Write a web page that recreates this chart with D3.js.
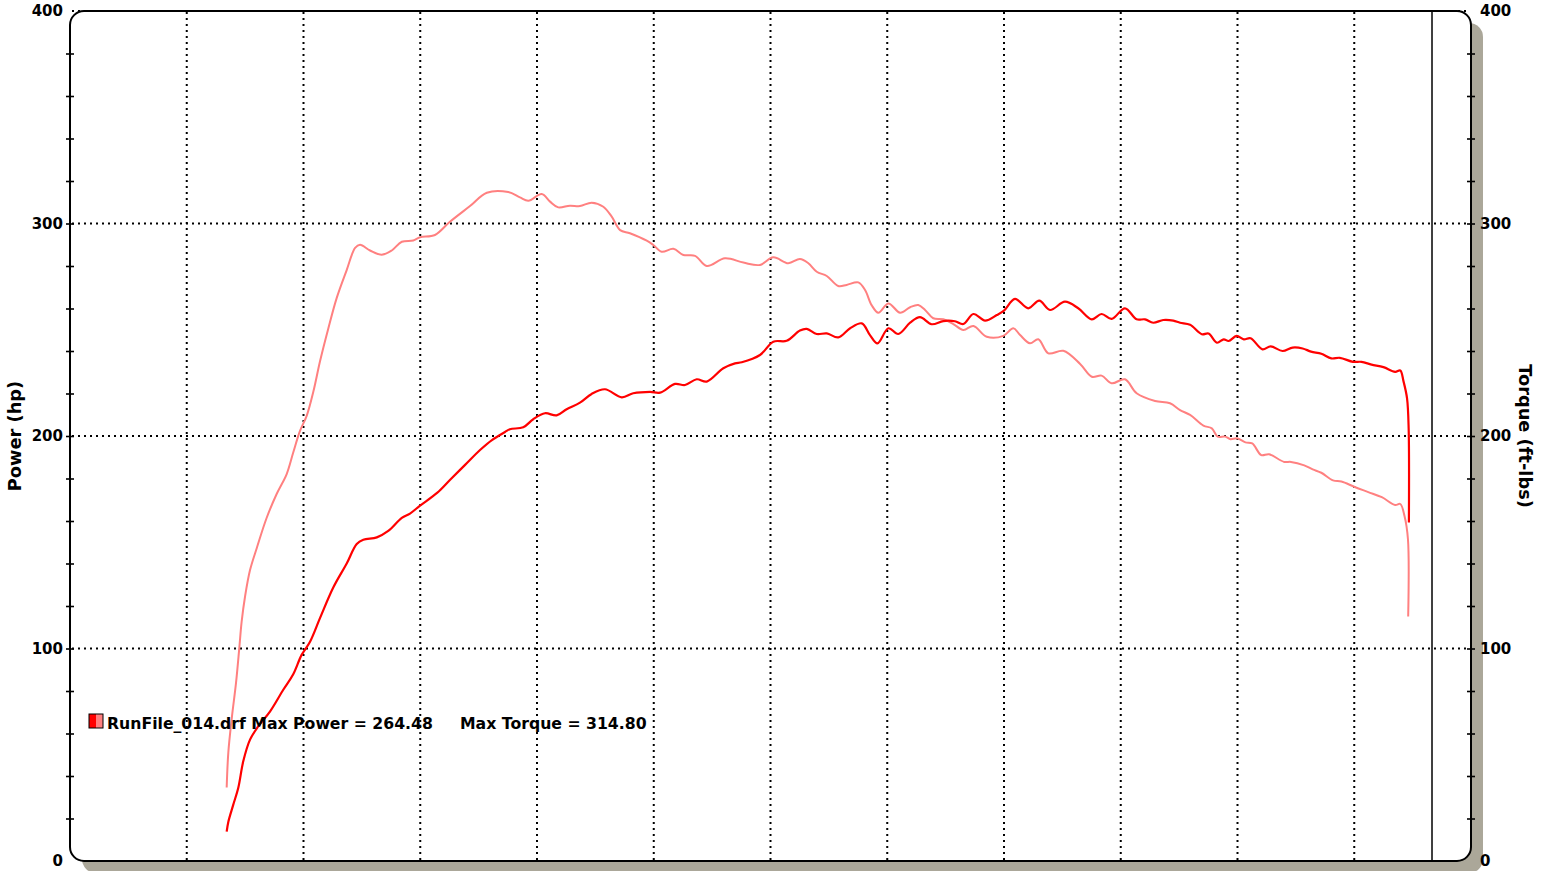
<!DOCTYPE html>
<html><head><meta charset="utf-8">
<script src="https://cdn.jsdelivr.net/npm/d3@7"></script>
<style>
html,body{margin:0;padding:0;background:#fff;overflow:hidden}
svg{display:block}
text{font-family:"DejaVu Sans",Verdana,sans-serif;font-weight:bold;fill:#000}
</style></head><body>
<svg id="c" width="1554" height="871"></svg>
<script>
// ---- data ----
const yTickLabels = [0, 100, 200, 300, 400];
const yMinorTicks = d3.range(20, 400, 20);
const xGridRpm = [1500, 2000, 2500, 3000, 3500, 4000, 4500, 5000, 5500, 6000, 6500];
const cursorRpm = 6833;
const legendFile = "RunFile_014.drf";
const maxPower = "264.48";
const maxTorque = "314.80";

const torque = [
[1671,34.6],[1678,51.0],[1693,67.4],[1711,83.8],[1725,100.2],[1735,112.5],[1750,124.7],[1771,136.9],[1800,147.3],[1842,161.4],[1885,172.7],[1928,182.1],[1956,192.2],[1985,202.4],[2014,209.6],[2042,220.8],[2071,235.3],[2106,250.5],[2142,264.9],[2185,278.1],[2221,288.5],[2242,290.0],[2285,287.3],[2335,285.3],[2378,287.3],[2421,291.4],[2470,292.0],[2499,293.5],[2563,294.6],[2627,300.8],[2713,308.2],[2785,314.5],[2877,314.8],[2927,312.3],[2963,310.7],[3020,313.9],[3056,310.3],[3091,307.6],[3141,308.4],[3184,308.2],[3234,309.8],[3284,307.9],[3320,303.2],[3356,296.9],[3398,295.4],[3470,291.9],[3498,289.9],[3534,286.7],[3584,288.1],[3627,285.2],[3677,284.8],[3727,280.0],[3805,283.6],[3884,281.6],[3955,280.5],[4012,284.1],[4076,281.3],[4126,283.3],[4162,281.3],[4198,277.3],[4241,275.3],[4290,270.6],[4326,271.1],[4376,272.3],[4405,268.7],[4433,261.6],[4462,258.0],[4505,262.4],[4555,258.0],[4598,260.6],[4633,261.6],[4662,259.3],[4697,255.4],[4740,254.9],[4783,252.7],[4826,249.9],[4869,251.8],[4926,246.7],[4997,247.1],[5040,250.7],[5069,247.5],[5111,243.6],[5147,245.5],[5190,238.9],[5254,240.1],[5326,233.9],[5376,227.9],[5418,228.4],[5461,224.8],[5518,226.7],[5568,220.1],[5647,216.5],[5711,215.4],[5754,212.2],[5797,209.9],[5854,204.9],[5890,203.6],[5915,199.7],[5948,199.7],[5970,198.5],[5998,198.9],[6034,197.0],[6063,196.5],[6102,191.0],[6135,191.4],[6200,187.8],[6229,187.8],[6286,186.2],[6322,184.3],[6359,182.7],[6409,179.1],[6445,178.6],[6502,176.0],[6560,173.6],[6618,171.2],[6675,167.5],[6697,168.0],[6715,162.5],[6730,151.4],[6731,115.1]
];

const power = [
[1671,13.8],[1678,18.4],[1699,26.4],[1721,34.6],[1742,46.9],[1771,57.1],[1806,63.3],[1857,70.4],[1914,80.7],[1956,87.9],[1992,97.0],[2028,103.2],[2071,114.4],[2128,128.8],[2185,140.0],[2228,149.2],[2256,151.2],[2314,152.3],[2363,155.3],[2421,161.5],[2456,163.5],[2499,167.2],[2572,173.2],[2627,179.3],[2692,186.4],[2756,193.4],[2807,198.1],[2863,201.9],[2884,203.2],[2941,204.1],[2984,207.9],[3034,210.7],[3084,209.7],[3127,212.6],[3184,215.7],[3234,219.8],[3291,222.0],[3363,218.2],[3412,220.1],[3484,220.8],[3527,220.4],[3591,224.5],[3634,224.0],[3684,226.7],[3727,225.6],[3798,231.9],[3848,234.2],[3877,234.7],[3955,238.1],[4012,244.4],[4069,244.8],[4126,249.6],[4155,250.4],[4198,248.0],[4241,248.3],[4290,246.4],[4341,250.7],[4391,253.0],[4426,247.5],[4458,243.6],[4505,250.7],[4547,248.0],[4598,253.3],[4640,255.9],[4690,252.6],[4740,254.1],[4790,254.0],[4826,252.7],[4869,257.4],[4919,254.3],[4969,256.9],[5000,259.0],[5047,264.5],[5104,260.1],[5151,263.7],[5197,259.3],[5261,263.2],[5318,260.1],[5376,254.9],[5418,257.4],[5461,255.1],[5518,260.1],[5568,254.9],[5604,254.9],[5639,253.3],[5682,254.6],[5725,254.3],[5754,253.3],[5797,252.3],[5847,247.9],[5876,248.2],[5912,243.9],[5941,245.5],[5962,244.7],[5996,247.1],[6027,245.5],[6056,246.0],[6107,240.8],[6142,242.2],[6193,240.0],[6236,241.6],[6279,241.2],[6315,239.7],[6359,238.7],[6402,236.5],[6438,236.8],[6495,234.9],[6531,234.9],[6574,233.6],[6625,232.4],[6675,230.2],[6697,230.8],[6711,225.7],[6726,217.8],[6733,203.6],[6734,159.3]
];

// ---- layout ----
const L = 70, R = 1471, T = 11, B = 861;
const x = d3.scaleLinear().domain([1000, 7000]).range([L, R]);
const y = d3.scaleLinear().domain([0, 400]).range([B, T]);
const svg = d3.select("#c");

const powerColor = "#ff0000", torqueColor = "#ff8080";

// shadow
svg.append("rect").attr("x", L + 12).attr("y", T + 12).attr("width", R - L).attr("height", B - T)
  .attr("rx", 14).attr("fill", "#aba799");
// plot background
svg.append("rect").attr("x", L).attr("y", T).attr("width", R - L).attr("height", B - T)
  .attr("rx", 14).attr("fill", "#fff");

// grid
const grid = svg.append("g").attr("stroke", "#000").attr("stroke-width", 2).attr("stroke-dasharray", "2,4");
grid.selectAll("line.h").data(yTickLabels.filter(d => d > 0)).join("line").attr("class", "h")
  .attr("x1", L + 2).attr("x2", R - 2).attr("y1", d => y(d)).attr("y2", d => y(d));
grid.selectAll("line.v").data(xGridRpm).join("line").attr("class", "v")
  .attr("x1", d => x(d)).attr("x2", d => x(d)).attr("y1", T + 1).attr("y2", B - 1);

// cursor line
svg.append("line").attr("x1", x(cursorRpm)).attr("x2", x(cursorRpm)).attr("y1", T).attr("y2", B)
  .attr("stroke", "#000").attr("stroke-width", 1.5);

// curves
const line = d3.line().x(d => x(d[0])).y(d => y(d[1])).curve(d3.curveCatmullRom.alpha(0.5));
svg.append("path").datum(torque).attr("d", line).attr("fill", "none")
  .attr("stroke", torqueColor).attr("stroke-width", 2).attr("stroke-linejoin", "round");
svg.append("path").datum(power).attr("d", line).attr("fill", "none")
  .attr("stroke", powerColor).attr("stroke-width", 2.2).attr("stroke-linejoin", "round");

// frame
svg.append("rect").attr("x", L).attr("y", T).attr("width", R - L).attr("height", B - T)
  .attr("rx", 14).attr("fill", "none").attr("stroke", "#000").attr("stroke-width", 2);

// minor ticks (crossing the axis)
function ticks(gx, axisFn) {
  const g = svg.append("g").attr("transform", `translate(${gx},0)`)
    .call(axisFn(y).tickValues(yMinorTicks).tickSize(4).tickFormat(""));
  g.select(".domain").remove();
  g.selectAll(".tick line").attr("x1", -4).attr("x2", 4).attr("stroke", "#000").attr("stroke-width", 1.6);
}
ticks(L, d3.axisLeft);
ticks(R, d3.axisRight);

// tick labels
function labels(gx, axisFn, pad) {
  const g = svg.append("g").attr("transform", `translate(${gx},0)`)
    .call(axisFn(y).tickValues(yTickLabels).tickSize(0).tickPadding(pad).tickFormat(d3.format("d")));
  g.select(".domain").remove();
  g.selectAll("text").attr("font-size", 15).attr("font-family", '"DejaVu Sans",Verdana,sans-serif')
    .attr("font-weight", "bold").attr("fill", "#000");
}
labels(L, d3.axisLeft, 7);
labels(R, d3.axisRight, 9);

// axis titles
svg.append("text").attr("transform", `translate(21,${(T + B) / 2}) rotate(-90)`)
  .attr("text-anchor", "middle").attr("font-size", 17.8).text("Power (hp)");
svg.append("text").attr("transform", `translate(1519,${(T + B) / 2}) rotate(90)`)
  .attr("text-anchor", "middle").attr("font-size", 17.8).text("Torque (ft-lbs)");

// legend
const lg = svg.append("g");
lg.append("rect").attr("x", 89).attr("y", 714).attr("width", 7).attr("height", 14).attr("fill", powerColor);
lg.append("rect").attr("x", 96).attr("y", 714).attr("width", 7).attr("height", 14).attr("fill", torqueColor);
lg.append("rect").attr("x", 89).attr("y", 714).attr("width", 14).attr("height", 14)
  .attr("fill", "none").attr("stroke", "#000").attr("stroke-width", 1);
lg.append("text").attr("x", 107).attr("y", 729).attr("font-size", 15.7)
  .text(`${legendFile} Max Power = ${maxPower}`);
lg.append("text").attr("x", 460).attr("y", 729).attr("font-size", 15.7)
  .text(`Max Torque = ${maxTorque}`);
</script>
</body></html>
